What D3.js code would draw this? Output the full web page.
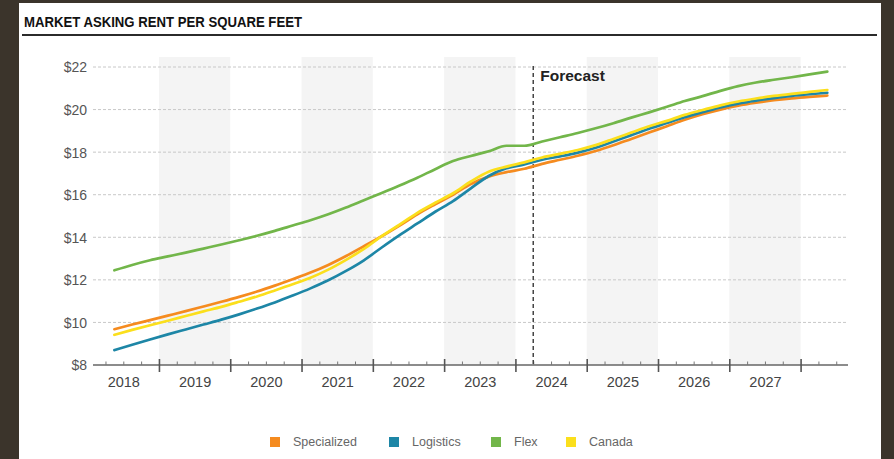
<!DOCTYPE html>
<html>
<head>
<meta charset="utf-8">
<script src="https://cdn.jsdelivr.net/npm/d3@7"></script>
<style>
  html, body { margin: 0; padding: 0; background: #3b342b; }
  svg { display: block; }
</style>
</head>
<body>
<svg id="chart" width="894" height="459"></svg>
<script>
// Quarterly asking rent ($ per sq ft), 2018 Q2 through 2028 Q2
const quarters = [
  "2018 Q2","2018 Q3","2018 Q4",
  "2019 Q1","2019 Q2","2019 Q3","2019 Q4",
  "2020 Q1","2020 Q2","2020 Q3","2020 Q4",
  "2021 Q1","2021 Q2","2021 Q3","2021 Q4",
  "2022 Q1","2022 Q2","2022 Q3","2022 Q4",
  "2023 Q1","2023 Q2","2023 Q3","2023 Q4",
  "2024 Q1","2024 Q2","2024 Q3","2024 Q4",
  "2025 Q1","2025 Q2","2025 Q3","2025 Q4",
  "2026 Q1","2026 Q2","2026 Q3","2026 Q4",
  "2027 Q1","2027 Q2","2027 Q3","2027 Q4",
  "2028 Q1","2028 Q2"
];

const specialized = [
  9.68, 9.90, 10.11,
  10.32, 10.53, 10.75, 10.97,
  11.20, 11.45, 11.73, 12.03,
  12.34, 12.70, 13.12, 13.58,
  14.05, 14.55, 15.08, 15.55,
  16.00, 16.50, 16.85, 17.06,
  17.22, 17.45, 17.64, 17.83,
  18.05, 18.32, 18.62, 18.92,
  19.22, 19.52, 19.78, 20.00,
  20.18, 20.32, 20.44, 20.53,
  20.60, 20.66
];

const logistics = [
  8.70, 8.95, 9.20,
  9.44, 9.67, 9.90, 10.13,
  10.38, 10.65, 10.94, 11.26,
  11.60, 11.98, 12.42, 12.92,
  13.52, 14.10, 14.65, 15.20,
  15.70, 16.30, 16.88, 17.24,
  17.42, 17.64, 17.80, 17.98,
  18.21, 18.50, 18.80, 19.10,
  19.37, 19.64, 19.88, 20.10,
  20.28, 20.42, 20.54, 20.64,
  20.72, 20.79
];

const flex = [
  12.45, 12.70, 12.92,
  13.10, 13.28, 13.47, 13.66,
  13.86, 14.07, 14.30, 14.55,
  14.80, 15.08, 15.40, 15.74,
  16.08, 16.43, 16.80, 17.20,
  17.58, 17.82, 18.04, 18.30,
  18.30, 18.50, 18.70, 18.90,
  19.12, 19.36, 19.62, 19.87,
  20.13, 20.40, 20.63, 20.88,
  21.10, 21.27, 21.40, 21.52,
  21.65, 21.78
];

const canada = [
  9.42, 9.65, 9.87,
  10.08, 10.30, 10.52, 10.73,
  10.97, 11.22, 11.50, 11.79,
  12.10, 12.48, 12.94, 13.45,
  14.05, 14.60, 15.15, 15.62,
  16.07, 16.62, 17.08, 17.32,
  17.52, 17.75, 17.92, 18.10,
  18.33, 18.62, 18.92, 19.22,
  19.47, 19.75, 19.98, 20.20,
  20.38, 20.52, 20.64, 20.74,
  20.83, 20.92
];

const seriesNames  = ["Specialized", "Logistics", "Flex", "Canada"];
const seriesColors = ["#f58b1f", "#1d86a6", "#72b64a", "#fbdf1c"];
const seriesValues = [specialized, logistics, flex, canada];

const yearLabels = ["2018","2019","2020","2021","2022","2023","2024","2025","2026","2027"];
const yTicks = [8, 10, 12, 14, 16, 18, 20, 22];
const shadedYears = [2019, 2021, 2023, 2025, 2027];
const forecastStart = 2024.25;   // start of 2024 Q2
const axisSpan = [2018.075, 2028.665];

const FONT = "'Liberation Sans', Arial, Helvetica, sans-serif";

// "2019 Q3" -> fractional year at the middle of the quarter
const qTime = s => {
  const [yr, q] = s.split(" Q");
  return +yr + (+q - 0.5) / 4;
};

const svg = d3.select("#chart");

// white card on the dark page
svg.append("rect").attr("x", 19).attr("y", 3).attr("width", 862).attr("height", 456).attr("fill", "#ffffff");

// heading and rule
svg.append("text")
  .attr("x", 24).attr("y", 27)
  .attr("font-family", FONT).attr("font-weight", "bold").attr("font-size", 15)
  .attr("textLength", 278).attr("lengthAdjust", "spacingAndGlyphs")
  .attr("fill", "#111")
  .text("MARKET ASKING RENT PER SQUARE FEET");
svg.append("line").attr("x1", 22).attr("x2", 877).attr("y1", 35).attr("y2", 35)
  .attr("stroke", "#2b2b2b").attr("stroke-width", 2);

const x = d3.scaleLinear().domain(axisSpan).range([93, 848]);
const y = d3.scaleLinear().domain([8, 22]).range([365, 67]);

// alternating year bands
svg.append("g").selectAll("rect").data(shadedYears).join("rect")
  .attr("x", d => x(d)).attr("width", d => x(d + 1) - x(d))
  .attr("y", 57).attr("height", y(8) - 57)
  .attr("fill", "#f4f4f4");

// horizontal dashed gridlines
svg.append("g").selectAll("line").data(yTicks.filter(v => v > 8)).join("line")
  .attr("x1", x(axisSpan[0])).attr("x2", x(axisSpan[1]))
  .attr("y1", d => y(d)).attr("y2", d => y(d))
  .attr("stroke", "#c8c8c8").attr("stroke-width", 1).attr("stroke-dasharray", "3,2");

// y axis labels
const yAxis = d3.axisLeft(y).tickValues(yTicks).tickSize(0).tickPadding(3).tickFormat(d => "$" + d);
const gy = svg.append("g").attr("transform", "translate(90,0)").call(yAxis);
gy.select(".domain").remove();
gy.selectAll("text").attr("font-family", FONT).attr("font-size", 14).attr("fill", "#555").attr("dy", "0.35em");

// x axis: baseline, yearly major ticks, quarterly minor ticks, year labels
const majors = d3.range(2019, 2029);
const minors = [];
d3.range(2018, 2029).forEach(yr => [0.25, 0.5, 0.75].forEach(f => {
  const t = yr + f;
  if (t > axisSpan[0] && t < axisSpan[1]) minors.push(t);
}));

const gx = svg.append("g").attr("transform", `translate(0,${y(8)})`);
gx.append("line").attr("x1", x(axisSpan[0])).attr("x2", x(axisSpan[1]))
  .attr("stroke", "#666").attr("stroke-width", 1.5);
gx.append("g").call(d3.axisBottom(x).tickValues(minors).tickSizeInner(-3.5).tickSizeOuter(0).tickFormat(""))
  .call(g => g.select(".domain").remove())
  .selectAll("line").attr("stroke", "#777").attr("stroke-width", 1);
gx.append("g").attr("transform", "translate(0,-6)")
  .call(d3.axisBottom(x).tickValues(majors).tickSizeInner(13).tickSizeOuter(0).tickFormat(""))
  .call(g => g.select(".domain").remove())
  .selectAll("line").attr("stroke", "#555").attr("stroke-width", 1.6);
const gLabels = gx.append("g")
  .call(d3.axisBottom(x).tickValues(yearLabels.map(s => +s + 0.5)).tickSize(0).tickPadding(12)
    .tickFormat((d, i) => yearLabels[i]));
gLabels.select(".domain").remove();
gLabels.selectAll("text").attr("font-family", FONT).attr("font-size", 14.5).attr("fill", "#444");

// forecast divider
svg.append("line")
  .attr("x1", x(forecastStart)).attr("x2", x(forecastStart))
  .attr("y1", y(22) - 1).attr("y2", y(8))
  .attr("stroke", "#444").attr("stroke-width", 1.5).attr("stroke-dasharray", "4,3");
svg.append("text")
  .attr("x", x(forecastStart) + 7).attr("y", 81)
  .attr("font-family", FONT).attr("font-weight", "bold").attr("font-size", 15.5)
  .attr("fill", "#222").text("Forecast");

// series lines
const line = d3.line()
  .x((d, i) => x(qTime(quarters[i])))
  .y(d => y(d))
  .curve(d3.curveMonotoneX);

svg.append("g").selectAll("path").data(seriesValues).join("path")
  .attr("d", d => line(d))
  .attr("fill", "none")
  .attr("stroke", (d, i) => seriesColors[i])
  .attr("stroke-width", 2.7)
  .attr("stroke-linejoin", "round")
  .attr("stroke-linecap", "round");

// legend
const legendX = [270, 389, 491, 566];
const legend = svg.append("g").selectAll("g").data(seriesNames).join("g")
  .attr("transform", (d, i) => `translate(${legendX[i]},437)`);
legend.append("rect").attr("width", 10).attr("height", 10).attr("fill", (d, i) => seriesColors[i]);
legend.append("text").attr("x", 23).attr("y", 5).attr("dy", "0.35em")
  .attr("font-family", FONT).attr("font-size", 12.5).attr("fill", "#666")
  .text(d => d);
</script>
</body>
</html>
